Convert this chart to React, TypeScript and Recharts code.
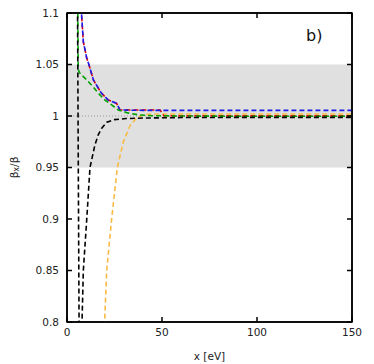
import {
  LineChart,
  Line,
  XAxis,
  YAxis,
  ReferenceArea,
  ReferenceLine,
} from 'recharts';

const FONT = "'DejaVu Sans', sans-serif";

const X_TICKS = [0, 50, 100, 150];
const Y_TICKS = [0.8, 0.85, 0.9, 0.95, 1, 1.05, 1.1];

// black curve that crosses the whole window near x = 6
const blackPoleX = [5.5, 6.4];
const blackPoleY = [1.12, 0.78];

// black curve rising from below
const blackRiseX = [7.6, 7.9, 8.6, 10.4, 12.1, 14.7, 16.5, 18.2, 21, 25, 31, 40, 60, 100, 150];
const blackRiseY = [0.78, 0.8, 0.85, 0.9, 0.95, 0.972, 0.982, 0.988, 0.994, 0.9965, 0.9975, 0.998, 0.9985, 0.9987, 0.9987];

const orangeX = [19.5, 19.8, 20.9, 23.5, 26.5, 29.5, 33, 36.5, 40, 45, 60, 100, 150];
const orangeY = [0.78, 0.8, 0.85, 0.9, 0.95, 0.974, 0.99, 0.998, 1.001, 1.002, 1.002, 1.002, 1.002];

const greenX = [5.6, 5.9, 6.8, 10.4, 13.9, 16.5, 20, 23.5, 27, 32, 38, 45, 60, 100, 150];
const greenY = [1.12, 1.045, 1.0415, 1.035, 1.028, 1.022, 1.0155, 1.0107, 1.0058, 1.003, 1.001, 1.0003, 1.0, 0.9997, 0.9997];

const blueX = [7.3, 7.6, 8.6, 10.4, 11.6, 13.9, 16.5, 18.2, 21.7, 26.1, 27.9, 40, 150];
const blueY = [1.12, 1.1, 1.072, 1.056, 1.0495, 1.035, 1.027, 1.022, 1.0155, 1.0123, 1.0058, 1.0055, 1.0055];

const redX = [7.3, 7.6, 8.6, 10.4, 11.6, 13.9, 16.5, 18.2, 21.7, 26.1, 27.9, 40, 49, 51, 60, 100, 150];
const redY = [1.12, 1.1, 1.072, 1.056, 1.0495, 1.035, 1.027, 1.022, 1.0155, 1.0123, 1.0058, 1.0058, 1.0058, 1.0003, 1.0003, 1.0003, 1.0003];

const zip = (xs: number[], ys: number[]) => xs.map((x, i) => ({ x, y: ys[i] }));

const tickStyle = { fontFamily: FONT, fontSize: 10.5, fill: '#222' };
const frame = { stroke: '#000', strokeWidth: 1.5 };

const fmtY = (v: number) => String(Number(v.toFixed(2)));

function YLabel({ viewBox }: any) {
  const cx = 14;
  const cy = viewBox ? viewBox.y + viewBox.height / 2 : 167;
  return (
    <text
      x={cx}
      y={cy}
      transform={`rotate(-90, ${cx}, ${cy})`}
      textAnchor="middle"
      dominantBaseline="central"
      fontFamily={FONT}
      fontSize={10.5}
      fill="#222"
    >
      <tspan>β</tspan>
      <tspan dy={2} fontSize={8}>x</tspan>
      <tspan dy={-2}>/β</tspan>
    </text>
  );
}

const series = [
  { key: 'orange', data: zip(orangeX, orangeY), color: '#f7bb45', offset: 0 },
  { key: 'red', data: zip(redX, redY), color: '#e00000', offset: 0 },
  { key: 'blue', data: zip(blueX, blueY), color: '#1c1ce8', offset: 2 },
  { key: 'green', data: zip(greenX, greenY), color: '#00a000', offset: 3 },
  { key: 'blackRise', data: zip(blackRiseX, blackRiseY), color: '#000000', offset: 0 },
  { key: 'blackPole', data: zip(blackPoleX, blackPoleY), color: '#000000', offset: 0 },
];

export default function App() {
  return (
    <div style={{ position: 'absolute', left: 0, top: 0, width: 374, height: 364, fontFamily: FONT, background: '#fff' }}>
      <LineChart width={374} height={364} margin={{ top: 12, right: 21, left: 0, bottom: 0 }}>
        <XAxis
          dataKey="x"
          type="number"
          domain={[0, 150]}
          ticks={X_TICKS}
          allowDataOverflow
          height={42}
          tickSize={-5}
          tickMargin={12}
          axisLine={frame}
          tickLine={frame}
          tick={tickStyle}
          label={{ value: 'x [eV]', position: 'insideBottom', offset: 4, style: { fontFamily: FONT, fontSize: 10.5, fill: '#222' } }}
        />
        <XAxis
          xAxisId="top"
          orientation="top"
          dataKey="x"
          type="number"
          domain={[0, 150]}
          ticks={X_TICKS}
          allowDataOverflow
          height={1}
          tickSize={-5}
          axisLine={frame}
          tickLine={frame}
          tick={() => <g />}
        />
        <YAxis
          type="number"
          domain={[0.8, 1.1]}
          ticks={Y_TICKS}
          allowDataOverflow
          width={67}
          tickSize={-5}
          tickMargin={13}
          axisLine={frame}
          tickLine={frame}
          tick={tickStyle}
          tickFormatter={fmtY}
          label={<YLabel />}
        />
        <YAxis
          yAxisId="right"
          orientation="right"
          type="number"
          domain={[0.8, 1.1]}
          ticks={Y_TICKS}
          allowDataOverflow
          width={1}
          tickSize={-5}
          axisLine={frame}
          tickLine={frame}
          tick={() => <g />}
        />
        <ReferenceArea y1={0.95} y2={1.05} fill="#e0e0e0" fillOpacity={1} stroke="none" />
        <ReferenceLine y={1} stroke="#999" strokeDasharray="1 2" />
        {series.map((s) => (
          <Line
            key={s.key}
            data={s.data}
            dataKey="y"
            type="linear"
            stroke={s.color}
            strokeWidth={1.6}
            strokeDasharray="5 3"
            strokeDashoffset={s.offset}
            dot={false}
            activeDot={false}
            isAnimationActive={false}
          />
        ))}
        {/* hidden carriers so the mirror axes get rendered */}
        <Line data={zip(X_TICKS, [1, 1, 1, 1])} xAxisId="top" dataKey="y" stroke="none" dot={false} activeDot={false} isAnimationActive={false} />
        <Line data={zip(X_TICKS, [1, 1, 1, 1])} yAxisId="right" dataKey="y" stroke="none" dot={false} activeDot={false} isAnimationActive={false} />
        <ReferenceArea x1={0} x2={150} y1={0.8} y2={1.1} fill="none" stroke="#000" strokeWidth={1.5} />
      </LineChart>
      <div style={{ position: 'absolute', left: 306, top: 28, fontSize: 16, lineHeight: 1, color: '#111' }}>b)</div>
    </div>
  );
}
